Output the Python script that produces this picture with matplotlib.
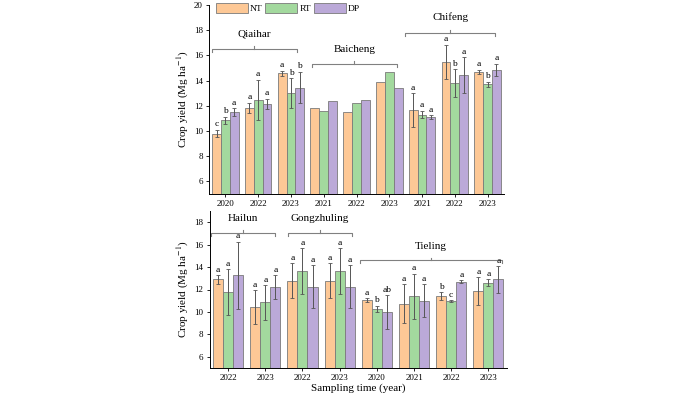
import numpy as np
import matplotlib
matplotlib.use('Agg')
import matplotlib.pyplot as plt

plt.rcParams['font.family'] = ['Liberation Serif', 'DejaVu Serif']
plt.rcParams['mathtext.fontset'] = 'stix'

treatments = ['NT', 'RT', 'DP']
colors = ['#FDC896', '#A3D99E', '#BBA9D8']

# ---- top panel data ----
top_years = ['2020', '2022', '2023', '2021', '2022', '2023', '2021', '2022', '2023']
top_nt = [9.8, 11.85, 14.6, 11.85, 11.5, 13.9, 11.65, 15.5, 14.7]
top_rt = [10.85, 12.45, 13.0, 11.6, 12.2, 14.65, 11.3, 13.8, 13.7]
top_dp = [11.5, 12.15, 13.45, 12.4, 12.45, 13.4, 11.1, 14.45, 14.85]
top_nt_err = [0.3, 0.4, 0.2, 0, 0, 0, 1.35, 1.35, 0.15]
top_rt_err = [0.3, 1.6, 1.2, 0, 0, 0, 0.3, 1.1, 0.2]
top_dp_err = [0.3, 0.4, 1.25, 0, 0, 0, 0.15, 1.4, 0.5]
top_nt_let = ['c', 'a', 'a', '', '', '', 'a', 'a', 'a']
top_rt_let = ['b', 'a', 'b', '', '', '', 'a', 'b', 'b']
top_dp_let = ['a', 'a', 'b', '', '', '', 'a', 'a', 'a']
top_sites = ['Qiaihar', 'Baicheng', 'Chifeng']
top_site_span = [(-0.41, 2.18), (2.63, 5.24), (5.49, 8.22)]
top_site_y = [16.5, 15.3, 17.8]

# ---- bottom panel data ----
bot_years = ['2022', '2023', '2022', '2023', '2020', '2021', '2022', '2023']
bot_nt = [12.9, 10.45, 12.8, 12.8, 11.05, 10.75, 11.4, 11.85]
bot_rt = [11.75, 10.85, 13.65, 13.65, 10.25, 11.4, 10.95, 12.6]
bot_dp = [13.25, 12.2, 12.25, 12.25, 10.0, 11.0, 12.7, 12.9]
bot_nt_err = [0.4, 1.5, 1.55, 1.55, 0.2, 1.7, 0.35, 1.25]
bot_rt_err = [2.05, 1.55, 2.05, 2.05, 0.3, 2.0, 0.1, 0.3]
bot_dp_err = [3.0, 1.05, 1.9, 1.9, 1.5, 1.45, 0.15, 1.2]
bot_nt_let = ['a', 'a', 'a', 'a', 'a', 'a', 'b', 'a']
bot_rt_let = ['a', 'a', 'a', 'a', 'b', 'a', 'c', 'a']
bot_dp_let = ['a', 'a', 'a', 'a', 'ab', 'a', 'a', 'a']
bot_sites = ['Hailun', 'Gongzhuling', 'Tieling']
bot_site_span = [(-0.46, 1.27), (1.6, 3.32), (3.54, 7.36)]
bot_site_y = [17.05, 17.05, 14.6]


def draw_panel(ax, years, vals, errs, lets, sites, spans, site_y, ylim, leg=False):
    x = np.arange(len(years))
    w = 0.27
    for k in range(3):
        xs = x + (k - 1) * w
        e = np.array(errs[k], dtype=float)
        ax.bar(xs, vals[k], w, color=colors[k], edgecolor='#7a7a7a', linewidth=0.6,
               label=treatments[k], zorder=2)
        has = e > 0
        ax.errorbar(xs[has], np.array(vals[k])[has], yerr=e[has], fmt='none',
                    ecolor='#555555', elinewidth=0.7, capsize=1.6, capthick=0.6, zorder=3)
        for xi, v, ei, t in zip(xs, vals[k], e, lets[k]):
            if t:
                ax.text(xi, v + ei + 0.12, t, ha='center', va='bottom', fontsize=6.8)
    # site brackets
    for name, (a, b), yb in zip(sites, spans, site_y):
        h = 0.25
        ax.plot([a, a, b, b], [yb - h, yb, yb, yb - h], color='#808080', lw=0.8, zorder=1)
        m = (a + b) / 2
        ax.plot([m, m], [yb, yb + h], color='#808080', lw=0.8)
        ax.text(m, yb + 0.85, name, ha='center', va='bottom', fontsize=8)
    ax.set_xticks(x)
    ax.set_xticklabels(years)
    ax.set_xlim(-0.5, len(years) - 0.5)
    ax.set_ylim(*ylim)
    ax.set_yticks(np.arange(6, ylim[1] + 0.1, 2))
    ax.tick_params(labelsize=6.5, length=2.5, width=0.6, pad=2)
    for s in ax.spines.values():
        s.set_linewidth(0.7)
    ax.spines['top'].set_visible(False)
    ax.spines['right'].set_visible(False)
    ax.set_ylabel('Crop yield (Mg ha$^{-1}$)', fontsize=8, labelpad=2)
    if leg:
        ax.legend(loc='upper left', ncol=3, frameon=False, fontsize=6.8,
                  handlelength=3.4, handleheight=1.2, columnspacing=0.3,
                  handletextpad=0.2, borderaxespad=0.0, bbox_to_anchor=(0.01, 1.03))


fig = plt.figure(figsize=(6.92, 3.93), dpi=100)
ax1 = fig.add_axes([209 / 692, 1 - 194 / 393, 295 / 692, 189 / 393])
ax2 = fig.add_axes([209.5 / 692, 1 - 368 / 393, 297.5 / 692, 157 / 393])

draw_panel(ax1, top_years, [top_nt, top_rt, top_dp], [top_nt_err, top_rt_err, top_dp_err],
           [top_nt_let, top_rt_let, top_dp_let], top_sites, top_site_span, top_site_y,
           (5, 20), leg=True)
draw_panel(ax2, bot_years, [bot_nt, bot_rt, bot_dp], [bot_nt_err, bot_rt_err, bot_dp_err],
           [bot_nt_let, bot_rt_let, bot_dp_let], bot_sites, bot_site_span, bot_site_y,
           (5, 19))
ax2.set_xlabel('Sampling time (year)', fontsize=8, labelpad=1)

fig.savefig('out.png', dpi=100)
